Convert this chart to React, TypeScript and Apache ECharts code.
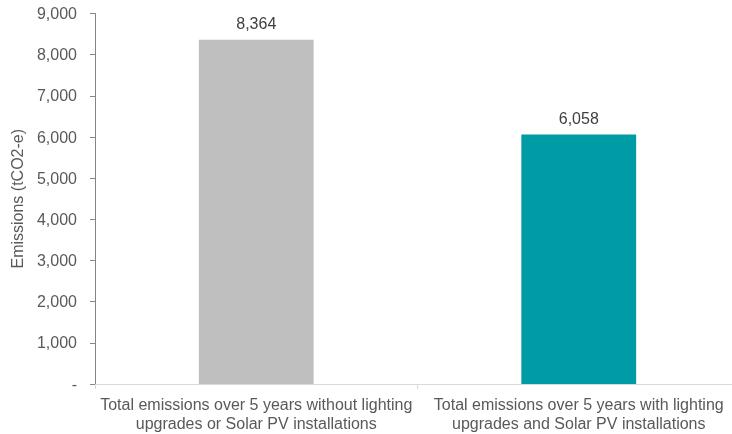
import React, { useEffect, useRef } from "react";
import * as echarts from "echarts";

const categories = [
  "Total emissions over 5 years without lighting\nupgrades or Solar PV installations",
  "Total emissions over 5 years with lighting\nupgrades and Solar PV installations",
];
const emissions = [8364, 6058];
const barColors = ["#BFBFBF", "#009CA6"];
const yAxisTitle = "Emissions (tCO2-e)";

const fmt = (v: number) => (v === 0 ? "-" : v.toLocaleString("en-US"));

export default function App() {
  const ref = useRef<HTMLDivElement>(null);

  useEffect(() => {
    if (!ref.current) return;
    const chart = echarts.init(ref.current, undefined, { renderer: "svg" });
    const font = "'Liberation Sans', Arial, sans-serif";
    chart.setOption({
      animation: false,
      textStyle: { fontFamily: font },
      grid: {
        left: 95,
        top: 13.5,
        width: 645,
        bottom: 50,
        containLabel: false,
        outerBoundsMode: "none",
      },
      xAxis: {
        type: "category",
        data: categories,
        axisLine: { lineStyle: { color: "#D9D9D9", width: 1 } },
        axisTick: { show: true, length: 5, lineStyle: { color: "#D9D9D9" } },
        axisLabel: {
          color: "#595959",
          fontSize: 16,
          lineHeight: 19,
          margin: 11,
          fontFamily: font,
          interval: 0,
        },
      },
      yAxis: {
        type: "value",
        min: 0,
        max: 9000,
        interval: 1000,
        name: yAxisTitle,
        nameLocation: "middle",
        nameGap: 70,
        nameRotate: 90,
        nameTextStyle: { color: "#595959", fontSize: 16, fontFamily: font },
        axisLine: { show: true, lineStyle: { color: "#868686", width: 1 } },
        axisTick: { show: true, length: 5, lineStyle: { color: "#868686" } },
        splitLine: { show: false },
        axisLabel: {
          color: "#595959",
          fontSize: 16,
          margin: 18,
          fontFamily: font,
          formatter: (v: number) => fmt(v),
        },
      },
      series: [
        {
          type: "bar",
          barWidth: "35.6%",
          data: emissions.map((v, i) => ({ value: v, itemStyle: { color: barColors[i] } })),
          label: {
            show: true,
            position: "top",
            distance: 8,
            color: "#404040",
            fontSize: 16,
            fontFamily: font,
            formatter: (p: any) => fmt(p.value),
          },
        },
      ],
    });
    return () => chart.dispose();
  }, []);

  return (
    <div
      ref={ref}
      style={{ position: "fixed", left: 0, top: 0, width: 732, height: 434 }}
    />
  );
}
